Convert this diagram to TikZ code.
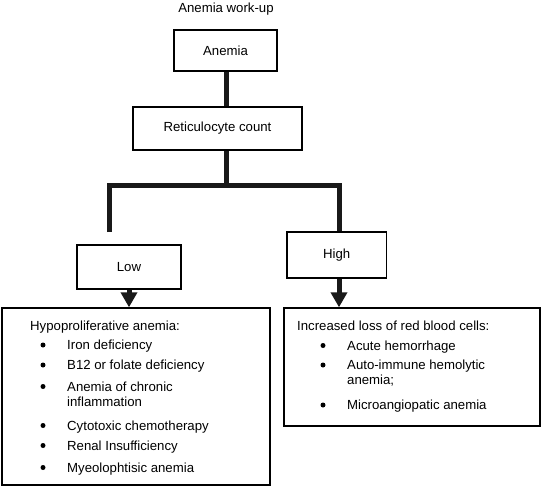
\documentclass[tikz,border=0pt]{standalone}
\usepackage{fontspec}
\setmainfont{Liberation Sans}
\usetikzlibrary{arrows.meta}
\tikzset{
  box/.style={draw, line width=1.4pt, minimum width=#1, inner sep=0pt},
  conn/.style={line width=5pt, black!90},
  arr/.style={conn, -{Triangle[width=16pt,length=15pt]}},
  txt/.style={anchor=base west, inner sep=0pt},
  dot/.style={fill=black, circle, inner sep=0pt, minimum size=5pt}
}
\begin{document}
\begin{tikzpicture}[x=1pt,y=-1pt,font=\fontsize{13.2}{15}\selectfont]
\useasboundingbox (0,0) rectangle (542,488);
\node[anchor=base, inner sep=0pt] (title) at (226,12.8) {Anemia work-up};
\node[box=103pt, minimum height=41pt] (an) at (225.5,50.5) {Anemia};
\node[box=169pt, minimum height=43pt] (ret) at (217.5,128.5) {Reticulocyte count};
\node[box=104pt, minimum height=44pt] (low) at (129,267) {Low};
\node[box=99.5pt, minimum height=46pt] (high) at (336.75,255) {High};
\node[box=268pt, minimum height=177pt] (lb) at (136,396.5) {};
\node[box=256pt, minimum height=118pt] (rb) at (412,367) {};
\coordinate (j) at (226,185);
\coordinate (jl) at (109,185);
\coordinate (jr) at (339,185);
\coordinate (le) at (109,232);
\draw[conn] (j |- an.south) -- (j |- ret.north);
\draw[conn] (j |- ret.south) -- (j);
\draw[conn] (le) -- (jl) -- (jr) -- (jr |- high.north);
\draw[arr] (low.south) -- (low.south |- lb.north);
\draw[arr] (jr |- high.south) -- (jr |- rb.north);
% left list
\node[txt] (h1) at (30,330) {Hypoproliferative anemia:};
\node[txt] (l1) at (67,349.5) {Iron deficiency};
\node[txt] (l2) at (67,369.5) {B12 or folate deficiency};
\node[txt] (l3) at (67,391) {Anemia of chronic};
\node[txt] (l3b) at (67,406) {inflammation};
\node[txt] (l4) at (67,430) {Cytotoxic chemotherapy};
\node[txt] (l5) at (67,450) {Renal Insufficiency};
\node[txt] (l6) at (67,472) {Myeolophtisic anemia};
\foreach \y/\n in {349.5/a,369.5/b,391/c,430/d,450/e,472/f}
  \node[dot] (bl\n) at (43,\y-4.5) {};
% right list
\node[txt] (h2) at (297,330) {Increased loss of red blood cells:};
\node[txt] (r1) at (347,350) {Acute hemorrhage};
\node[txt] (r2) at (347,369.5) {Auto-immune hemolytic};
\node[txt] (r2b) at (347,384.5) {anemia;};
\node[txt] (r3) at (347,409.5) {Microangiopatic anemia};
\foreach \y/\n in {350/a,369.5/b,409.5/c}
  \node[dot] (br\n) at (323,\y-4.5) {};
\end{tikzpicture}
\end{document}
